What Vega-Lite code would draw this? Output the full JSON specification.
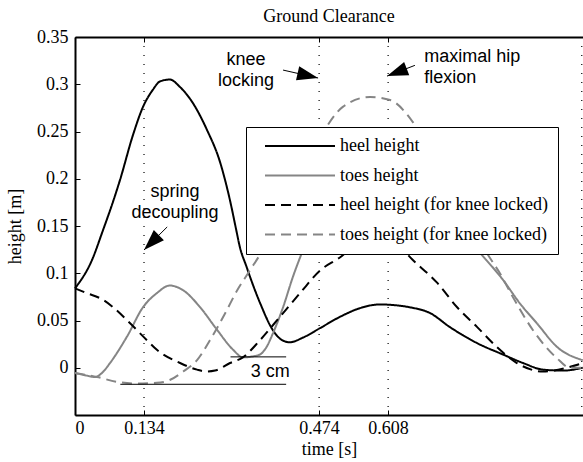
{
  "$schema": "https://vega.github.io/schema/vega-lite/v6.json",
  "width": 508,
  "height": 378,
  "autosize": {"type": "none"},
  "padding": {"left": 75, "top": 37, "right": 0, "bottom": 47},
  "background": "white",
  "title": {"text": "Ground Clearance", "font": "Liberation Serif", "fontSize": 18, "fontWeight": "normal", "color": "black", "baseline": "alphabetic", "offset": -12, "anchor": "middle"},
  "config": {
    "view": {"stroke": null},
    "axis": {"grid": false, "domainColor": "black", "tickColor": "black", "labelColor": "black", "titleColor": "black", "labelFont": "Liberation Serif", "titleFont": "Liberation Serif", "labelFontSize": 18, "titleFontSize": 18, "titleFontWeight": "normal", "domainWidth": 2, "tickWidth": 1, "tickSize": -5}
  },
  "resolve": {"axis": {"x": "independent"}},
  "datasets": {
    "curves": [
      {"series": "heel height", "t": 0, "h": 0.084},
      {"series": "heel height", "t": 0.033, "h": 0.114},
      {"series": "heel height", "t": 0.054, "h": 0.145},
      {"series": "heel height", "t": 0.074, "h": 0.176},
      {"series": "heel height", "t": 0.087, "h": 0.198},
      {"series": "heel height", "t": 0.113, "h": 0.247},
      {"series": "heel height", "t": 0.132, "h": 0.276},
      {"series": "heel height", "t": 0.151, "h": 0.294},
      {"series": "heel height", "t": 0.165, "h": 0.303},
      {"series": "heel height", "t": 0.184, "h": 0.305},
      {"series": "heel height", "t": 0.204, "h": 0.297},
      {"series": "heel height", "t": 0.229, "h": 0.28},
      {"series": "heel height", "t": 0.256, "h": 0.252},
      {"series": "heel height", "t": 0.282, "h": 0.217},
      {"series": "heel height", "t": 0.301, "h": 0.177},
      {"series": "heel height", "t": 0.313, "h": 0.146},
      {"series": "heel height", "t": 0.32, "h": 0.128},
      {"series": "heel height", "t": 0.333, "h": 0.107},
      {"series": "heel height", "t": 0.34, "h": 0.096},
      {"series": "heel height", "t": 0.359, "h": 0.069},
      {"series": "heel height", "t": 0.384, "h": 0.04},
      {"series": "heel height", "t": 0.4, "h": 0.03},
      {"series": "heel height", "t": 0.417, "h": 0.027},
      {"series": "heel height", "t": 0.443, "h": 0.032},
      {"series": "heel height", "t": 0.476, "h": 0.042},
      {"series": "heel height", "t": 0.515, "h": 0.054},
      {"series": "heel height", "t": 0.553, "h": 0.063},
      {"series": "heel height", "t": 0.592, "h": 0.067},
      {"series": "heel height", "t": 0.625, "h": 0.066},
      {"series": "heel height", "t": 0.65, "h": 0.064},
      {"series": "heel height", "t": 0.689, "h": 0.058},
      {"series": "heel height", "t": 0.728, "h": 0.043},
      {"series": "heel height", "t": 0.781, "h": 0.026},
      {"series": "heel height", "t": 0.831, "h": 0.014},
      {"series": "heel height", "t": 0.87, "h": 0.005},
      {"series": "heel height", "t": 0.909, "h": -0.002},
      {"series": "heel height", "t": 0.948, "h": -0.003},
      {"series": "heel height", "t": 0.986, "h": 0.0},
      {"series": "toes height", "t": 0, "h": -0.0055},
      {"series": "toes height", "t": 0.02, "h": -0.008},
      {"series": "toes height", "t": 0.039, "h": -0.0098},
      {"series": "toes height", "t": 0.055, "h": -0.004},
      {"series": "toes height", "t": 0.068, "h": 0.005},
      {"series": "toes height", "t": 0.101, "h": 0.033},
      {"series": "toes height", "t": 0.132, "h": 0.064},
      {"series": "toes height", "t": 0.159, "h": 0.079},
      {"series": "toes height", "t": 0.184, "h": 0.087},
      {"series": "toes height", "t": 0.21, "h": 0.082},
      {"series": "toes height", "t": 0.243, "h": 0.064},
      {"series": "toes height", "t": 0.276, "h": 0.04},
      {"series": "toes height", "t": 0.307, "h": 0.019},
      {"series": "toes height", "t": 0.326, "h": 0.011},
      {"series": "toes height", "t": 0.345, "h": 0.012},
      {"series": "toes height", "t": 0.359, "h": 0.014},
      {"series": "toes height", "t": 0.372, "h": 0.022},
      {"series": "toes height", "t": 0.384, "h": 0.036},
      {"series": "toes height", "t": 0.404, "h": 0.064},
      {"series": "toes height", "t": 0.423, "h": 0.096},
      {"series": "toes height", "t": 0.443, "h": 0.125},
      {"series": "toes height", "t": 0.47, "h": 0.16},
      {"series": "toes height", "t": 0.52, "h": 0.19},
      {"series": "toes height", "t": 0.58, "h": 0.2},
      {"series": "toes height", "t": 0.64, "h": 0.19},
      {"series": "toes height", "t": 0.7, "h": 0.17},
      {"series": "toes height", "t": 0.75, "h": 0.145},
      {"series": "toes height", "t": 0.781, "h": 0.125},
      {"series": "toes height", "t": 0.831, "h": 0.093},
      {"series": "toes height", "t": 0.864, "h": 0.068},
      {"series": "toes height", "t": 0.897, "h": 0.047},
      {"series": "toes height", "t": 0.936, "h": 0.022},
      {"series": "toes height", "t": 0.986, "h": 0.008},
      {"series": "heel height (for knee locked)", "t": 0, "h": 0.084},
      {"series": "heel height (for knee locked)", "t": 0.023, "h": 0.079},
      {"series": "heel height (for knee locked)", "t": 0.054, "h": 0.072},
      {"series": "heel height (for knee locked)", "t": 0.074, "h": 0.064},
      {"series": "heel height (for knee locked)", "t": 0.107, "h": 0.047},
      {"series": "heel height (for knee locked)", "t": 0.14, "h": 0.029},
      {"series": "heel height (for knee locked)", "t": 0.159, "h": 0.019},
      {"series": "heel height (for knee locked)", "t": 0.204, "h": 0.005},
      {"series": "heel height (for knee locked)", "t": 0.237, "h": -0.002},
      {"series": "heel height (for knee locked)", "t": 0.256, "h": -0.004},
      {"series": "heel height (for knee locked)", "t": 0.272, "h": -0.003},
      {"series": "heel height (for knee locked)", "t": 0.301, "h": 0.005},
      {"series": "heel height (for knee locked)", "t": 0.326, "h": 0.011},
      {"series": "heel height (for knee locked)", "t": 0.359, "h": 0.029},
      {"series": "heel height (for knee locked)", "t": 0.398, "h": 0.054},
      {"series": "heel height (for knee locked)", "t": 0.437, "h": 0.079},
      {"series": "heel height (for knee locked)", "t": 0.476, "h": 0.103},
      {"series": "heel height (for knee locked)", "t": 0.515, "h": 0.117},
      {"series": "heel height (for knee locked)", "t": 0.534, "h": 0.125},
      {"series": "heel height (for knee locked)", "t": 0.57, "h": 0.133},
      {"series": "heel height (for knee locked)", "t": 0.6, "h": 0.135},
      {"series": "heel height (for knee locked)", "t": 0.63, "h": 0.128},
      {"series": "heel height (for knee locked)", "t": 0.656, "h": 0.114},
      {"series": "heel height (for knee locked)", "t": 0.703, "h": 0.09},
      {"series": "heel height (for knee locked)", "t": 0.742, "h": 0.064},
      {"series": "heel height (for knee locked)", "t": 0.781, "h": 0.043},
      {"series": "heel height (for knee locked)", "t": 0.819, "h": 0.022},
      {"series": "heel height (for knee locked)", "t": 0.858, "h": 0.005},
      {"series": "heel height (for knee locked)", "t": 0.909, "h": -0.004},
      {"series": "heel height (for knee locked)", "t": 0.955, "h": 0.0},
      {"series": "heel height (for knee locked)", "t": 0.981, "h": 0.004},
      {"series": "toes height (for knee locked)", "t": 0, "h": -0.0055},
      {"series": "toes height (for knee locked)", "t": 0.043, "h": -0.0098},
      {"series": "toes height (for knee locked)", "t": 0.082, "h": -0.015},
      {"series": "toes height (for knee locked)", "t": 0.12, "h": -0.0167},
      {"series": "toes height (for knee locked)", "t": 0.159, "h": -0.016},
      {"series": "toes height (for knee locked)", "t": 0.184, "h": -0.013},
      {"series": "toes height (for knee locked)", "t": 0.21, "h": -0.004},
      {"series": "toes height (for knee locked)", "t": 0.237, "h": 0.008},
      {"series": "toes height (for knee locked)", "t": 0.262, "h": 0.029},
      {"series": "toes height (for knee locked)", "t": 0.29, "h": 0.056},
      {"series": "toes height (for knee locked)", "t": 0.315, "h": 0.082},
      {"series": "toes height (for knee locked)", "t": 0.336, "h": 0.1},
      {"series": "toes height (for knee locked)", "t": 0.365, "h": 0.125},
      {"series": "toes height (for knee locked)", "t": 0.4, "h": 0.163},
      {"series": "toes height (for knee locked)", "t": 0.44, "h": 0.205},
      {"series": "toes height (for knee locked)", "t": 0.47, "h": 0.237},
      {"series": "toes height (for knee locked)", "t": 0.491, "h": 0.257},
      {"series": "toes height (for knee locked)", "t": 0.52, "h": 0.276},
      {"series": "toes height (for knee locked)", "t": 0.573, "h": 0.2866},
      {"series": "toes height (for knee locked)", "t": 0.612, "h": 0.2833},
      {"series": "toes height (for knee locked)", "t": 0.656, "h": 0.26},
      {"series": "toes height (for knee locked)", "t": 0.709, "h": 0.209},
      {"series": "toes height (for knee locked)", "t": 0.757, "h": 0.162},
      {"series": "toes height (for knee locked)", "t": 0.8, "h": 0.121},
      {"series": "toes height (for knee locked)", "t": 0.825, "h": 0.1},
      {"series": "toes height (for knee locked)", "t": 0.85, "h": 0.075},
      {"series": "toes height (for knee locked)", "t": 0.889, "h": 0.04},
      {"series": "toes height (for knee locked)", "t": 0.936, "h": 0.01},
      {"series": "toes height (for knee locked)", "t": 0.961, "h": 0.0},
      {"series": "toes height (for knee locked)", "t": 0.986, "h": 0.0}
    ]
  },
  "layer": [
    {
      "data": {"values": [{"t": 0.134}, {"t": 0.474}, {"t": 0.608}, {"t": 0.984}]},
      "mark": {"type": "rule", "color": "black", "strokeWidth": 1.2, "strokeDash": [1, 8]},
      "encoding": {
        "x": {"field": "t", "type": "quantitative", "scale": {"domain": [0, 0.9864], "nice": false, "zero": false},
              "axis": {"orient": "top", "values": [0, 0.134, 0.474, 0.608], "labels": false, "title": null}}
      }
    },
    {
      "data": {"name": "curves"},
      "mark": {"type": "line", "strokeWidth": 2, "interpolate": "monotone"},
      "encoding": {
        "x": {"field": "t", "type": "quantitative", "scale": {"domain": [0, 0.9864], "nice": false, "zero": false},
              "axis": {"orient": "bottom", "values": [0, 0.134, 0.474, 0.608], "format": ".3~f", "labelPadding": 9, "title": "time [s]", "titlePadding": 3}},
        "y": {"field": "h", "type": "quantitative", "scale": {"domain": [-0.05, 0.35], "nice": false, "zero": false},
              "axis": {"values": [0, 0.05, 0.1, 0.15, 0.2, 0.25, 0.3, 0.35], "format": "~g", "labelPadding": 12, "title": "height [m]", "titlePadding": 12}},
        "color": {"field": "series", "type": "nominal",
                  "scale": {"domain": ["heel height", "toes height", "heel height (for knee locked)", "toes height (for knee locked)"], "range": ["black", "#858585", "black", "#858585"]},
                  "legend": {"orient": "none", "legendX": 171, "legendY": 90, "title": null, "symbolType": "M0,0L10,0", "symbolSize": 196, "symbolStrokeWidth": 2, "labelFont": "Liberation Serif", "labelFontSize": 18, "labelColor": "black", "padding": 10, "rowPadding": 11.5, "fillColor": "white", "strokeColor": "black", "labelOffset": 66, "labelLimit": 400}},
        "strokeDash": {"field": "series", "type": "nominal",
                  "scale": {"domain": ["heel height", "toes height", "heel height (for knee locked)", "toes height (for knee locked)"], "range": [[1, 0], [1, 0], [10, 6], [10, 6]]},
                  "legend": {"orient": "none", "legendX": 171, "legendY": 90, "title": null, "symbolType": "M0,0L10,0", "symbolSize": 196, "symbolStrokeWidth": 2, "labelFont": "Liberation Serif", "labelFontSize": 18, "labelColor": "black", "padding": 10, "rowPadding": 11.5, "fillColor": "white", "strokeColor": "black", "labelOffset": 66, "labelLimit": 400}}
      }
    },
    {
      "data": {"values": [{"t": 0.302, "t2": 0.41, "h": 0.0115}, {"t": 0.088, "t2": 0.41, "h": -0.0175}]},
      "mark": {"type": "rule", "color": "black", "strokeWidth": 1},
      "encoding": {
        "x": {"field": "t", "type": "quantitative", "scale": {"domain": [0, 0.9864], "nice": false, "zero": false}, "axis": null},
        "x2": {"field": "t2"},
        "y": {"field": "h", "type": "quantitative", "scale": {"domain": [-0.05, 0.35], "nice": false, "zero": false}}
      }
    },
    {
      "data": {"values": [{"t": 0.379, "h": -0.0095, "label": "3 cm"}, {"t": 0.332, "h": 0.32, "label": "knee\nlocking"}, {"t": 0.194, "h": 0.1807, "label": "spring\ndecoupling"}]},
      "mark": {"type": "text", "font": "Liberation Sans", "fontSize": 18, "color": "black", "align": "center", "baseline": "alphabetic", "lineBreak": "\n", "lineHeight": 21},
      "encoding": {
        "x": {"field": "t", "type": "quantitative", "scale": {"domain": [0, 0.9864], "nice": false, "zero": false}, "axis": null},
        "y": {"field": "h", "type": "quantitative", "scale": {"domain": [-0.05, 0.35], "nice": false, "zero": false}},
        "text": {"field": "label"}
      }
    },
    {
      "data": {"values": [{"t": 0.678, "h": 0.3235, "label": "maximal hip\nflexion"}]},
      "mark": {"type": "text", "font": "Liberation Sans", "fontSize": 18, "color": "black", "align": "left", "baseline": "alphabetic", "lineBreak": "\n", "lineHeight": 21},
      "encoding": {
        "x": {"field": "t", "type": "quantitative", "scale": {"domain": [0, 0.9864], "nice": false, "zero": false}, "axis": null},
        "y": {"field": "h", "type": "quantitative", "scale": {"domain": [-0.05, 0.35], "nice": false, "zero": false}},
        "text": {"field": "label"}
      }
    },
    {
      "data": {"values": [{"t": 0.404, "h": 0.315, "t2": 0.472, "h2": 0.3066}, {"t": 0.66, "h": 0.32, "t2": 0.606, "h2": 0.3086}, {"t": 0.179, "h": 0.149, "t2": 0.134, "h2": 0.1246}]},
      "mark": {"type": "rule", "color": "black", "strokeWidth": 1},
      "encoding": {
        "x": {"field": "t", "type": "quantitative", "scale": {"domain": [0, 0.9864], "nice": false, "zero": false}, "axis": null},
        "x2": {"field": "t2"},
        "y": {"field": "h", "type": "quantitative", "scale": {"domain": [-0.05, 0.35], "nice": false, "zero": false}},
        "y2": {"field": "h2"}
      }
    },
    {
      "data": {"values": [{"t": 0.472, "h": 0.3066}]},
      "mark": {"type": "point", "shape": "M0,0L-0.34,1L0.34,1Z", "filled": true, "color": "black", "opacity": 1, "size": 1764, "angle": 103},
      "encoding": {
        "x": {"field": "t", "type": "quantitative", "scale": {"domain": [0, 0.9864], "nice": false, "zero": false}, "axis": null},
        "y": {"field": "h", "type": "quantitative", "scale": {"domain": [-0.05, 0.35], "nice": false, "zero": false}}
      }
    },
    {
      "data": {"values": [{"t": 0.606, "h": 0.3086}]},
      "mark": {"type": "point", "shape": "M0,0L-0.34,1L0.34,1Z", "filled": true, "color": "black", "opacity": 1, "size": 1764, "angle": 249},
      "encoding": {
        "x": {"field": "t", "type": "quantitative", "scale": {"domain": [0, 0.9864], "nice": false, "zero": false}, "axis": null},
        "y": {"field": "h", "type": "quantitative", "scale": {"domain": [-0.05, 0.35], "nice": false, "zero": false}}
      }
    },
    {
      "data": {"values": [{"t": 0.134, "h": 0.1246}]},
      "mark": {"type": "point", "shape": "M0,0L-0.34,1L0.34,1Z", "filled": true, "color": "black", "opacity": 1, "size": 1764, "angle": 225},
      "encoding": {
        "x": {"field": "t", "type": "quantitative", "scale": {"domain": [0, 0.9864], "nice": false, "zero": false}, "axis": null},
        "y": {"field": "h", "type": "quantitative", "scale": {"domain": [-0.05, 0.35], "nice": false, "zero": false}}
      }
    }
  ]
}
